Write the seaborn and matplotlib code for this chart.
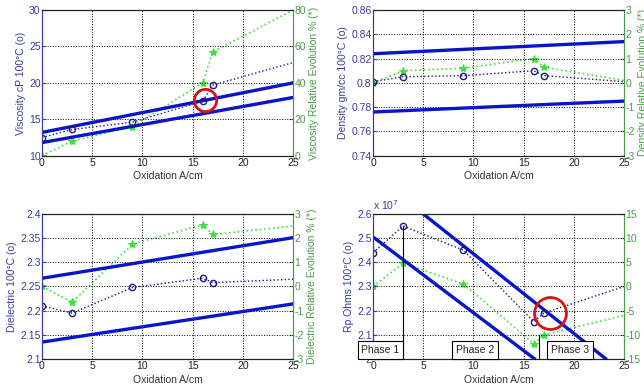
import numpy as np
import pandas as pd
import matplotlib
matplotlib.use("Agg")
import matplotlib.pyplot as plt
import seaborn as sns
from matplotlib.ticker import FuncFormatter

sns.set_style("white")
plt.rcParams['font.family'] = ['Liberation Sans', 'DejaVu Sans']

# ---------------- data ----------------
x_pts = [0, 3, 9, 16, 17, 25]

visc_vals = [12.5, 13.6, 14.6, 17.5, 19.7, 22.8]
visc_rel = [0, 8, 16, 40, 57, 80]
visc_lim_x = [0, 25]
visc_upper = [13.2, 20.0]
visc_lower = [11.8, 18.0]
visc_circle = (16.2, 17.7)

dens_vals = [0.801, 0.805, 0.806, 0.810, 0.806, 0.801]
dens_rel = [0, 0.5, 0.6, 1.0, 0.65, 0.1]
dens_upper = [0.824, 0.834]
dens_lower = [0.776, 0.785]

diel_vals = [2.21, 2.195, 2.248, 2.267, 2.258, 2.265]
diel_rel = [0, -0.65, 1.75, 2.55, 2.15, 2.5]
diel_upper = [2.267, 2.351]
diel_lower = [2.135, 2.214]

rp_vals = [2.44, 2.55, 2.45, 2.155, 2.19, 2.30]   # x 10^7
rp_rel = [0, 4.8, 0.5, -11.8, -10, -6]
rp_upper_x = [5, 23.2]
rp_upper = [2.6, 2.0]
rp_lower_x = [0, 16.1]
rp_lower = [2.505, 2.0]
rp_phase_x = [0.75, 10.15, 19.6]
rp_phase_labels = ["Phase 1", "Phase 2", "Phase 3"]
rp_vlines_x = [3, 16.5]
rp_vlines_top = [2.55, 2.10]
rp_circle = (17.6, 2.19)

# ---------------- style ----------------
C_LEFT = '#3a3a9a'
C_RIGHT = '#4c9a4c'
C_THICK = '#0a14c8'
C_DOT = '#1a1a80'
C_GREEN = '#3ee23e'
FS = 7.5

fig = plt.figure(figsize=(6.44, 3.89), dpi=100)
W = 0.390
positions = [
    [0.0652, 0.5997, W, 0.3745],
    [0.5792, 0.5997, W, 0.3745],
    [0.0652, 0.0771, W, 0.3729],
    [0.5792, 0.0771, W, 0.3729],
]

panels = [
    dict(vals=visc_vals, rel=visc_rel, ylim=(10, 30), yticks=[10, 15, 20, 25, 30],
         rlim=(0, 80), rticks=[0, 20, 40, 60, 80],
         ylabel="Viscosity cP 100°C (o)", rlabel="Viscosity Relative Evolution % (*)",
         lines=[(visc_lim_x, visc_upper), (visc_lim_x, visc_lower)]),
    dict(vals=dens_vals, rel=dens_rel, ylim=(0.74, 0.86),
         yticks=[0.74, 0.76, 0.78, 0.80, 0.82, 0.84, 0.86],
         rlim=(-3, 3), rticks=[-3, -2, -1, 0, 1, 2, 3],
         ylabel="Density gm/cc 100°C (o)", rlabel="Density Relative Evolution % (*)",
         lines=[(visc_lim_x, dens_upper), (visc_lim_x, dens_lower)]),
    dict(vals=diel_vals, rel=diel_rel, ylim=(2.1, 2.4),
         yticks=[2.1, 2.15, 2.2, 2.25, 2.3, 2.35, 2.4],
         rlim=(-3, 3), rticks=[-3, -2, -1, 0, 1, 2, 3],
         ylabel="Dielectric 100°C (o)", rlabel="Dielectric Relative Evolution % (*)",
         lines=[(visc_lim_x, diel_upper), (visc_lim_x, diel_lower)]),
    dict(vals=rp_vals, rel=rp_rel, ylim=(2.0, 2.6),
         yticks=[2.0, 2.1, 2.2, 2.3, 2.4, 2.5, 2.6],
         rlim=(-15, 15), rticks=[-15, -10, -5, 0, 5, 10, 15],
         ylabel="Rp Ohms 100°C (o)", rlabel="Rp Relative Evolution % (*)",
         lines=[(rp_upper_x, rp_upper), (rp_lower_x, rp_lower)]),
]

gfmt = FuncFormatter(lambda v, p: ('%g' % round(v, 4)))

for i, (pos, pn) in enumerate(zip(positions, panels)):
    ax = fig.add_axes(pos)
    ax2 = ax.twinx()
    ax.set_zorder(ax2.get_zorder() + 1)
    ax.patch.set_visible(False)

    # green relative evolution on right axis
    df_r = pd.DataFrame({"x": x_pts, "y": pn["rel"]})
    sns.lineplot(data=df_r, x="x", y="y", ax=ax2, color=C_GREEN, linestyle=':',
                 linewidth=1.2, marker='*', markersize=6, markevery=[0, 1, 2, 3, 4],
                 markeredgecolor=C_GREEN, sort=False)

    # thick limit lines
    for lx, ly in pn["lines"]:
        df_l = pd.DataFrame({"x": lx, "y": ly})
        sns.lineplot(data=df_l, x="x", y="y", ax=ax, color=C_THICK, linewidth=2.4)

    # measured values
    df_v = pd.DataFrame({"x": x_pts, "y": pn["vals"]})
    sns.lineplot(data=df_v, x="x", y="y", ax=ax, color=C_DOT, linestyle=':',
                 linewidth=1.0, marker='o', markersize=4.5, markerfacecolor='none',
                 markeredgecolor=C_DOT, markeredgewidth=1.0,
                 markevery=[0, 1, 2, 3, 4], sort=False)

    ax.set_xlim(0, 25)
    ax.set_ylim(*pn["ylim"])
    ax.set_yticks(pn["yticks"])
    ax.set_xticks([0, 5, 10, 15, 20, 25])
    ax.yaxis.set_major_formatter(gfmt)
    ax2.set_ylim(*pn["rlim"])
    ax2.set_yticks(pn["rticks"])
    ax2.yaxis.set_major_formatter(gfmt)

    ax.grid(True, color='black', linestyle=':', linewidth=0.7)
    ax.set_xlabel("Oxidation A/cm", fontsize=FS, color='#333333', labelpad=2.5)
    ax.set_ylabel(pn["ylabel"], fontsize=FS, color=C_LEFT, labelpad=2)
    ax2.set_ylabel(pn["rlabel"], fontsize=FS, color=C_RIGHT, labelpad=2)

    ax.tick_params(axis='x', labelsize=FS, colors='#222222', direction='in', length=3, pad=1.5)
    ax.tick_params(axis='y', labelsize=FS, colors=C_LEFT, direction='in', length=3, pad=1)
    ax2.tick_params(axis='y', labelsize=FS, colors=C_RIGHT, direction='in', length=3, pad=1)
    for a in (ax, ax2):
        a.spines['top'].set_color('#222222')
        a.spines['bottom'].set_color('#222222')
        a.spines['left'].set_color(C_LEFT)
        a.spines['right'].set_color(C_RIGHT)
        for s in a.spines.values():
            s.set_linewidth(0.8)

    if i == 0:
        ax.plot([visc_circle[0]], [visc_circle[1]], marker='o', markersize=16,
                markerfacecolor='none', markeredgecolor='#dd1111', markeredgewidth=2,
                linestyle='none', zorder=6)
    if i == 3:
        for vx, vt in zip(rp_vlines_x, rp_vlines_top):
            ax.plot([vx, vx], [2.0, vt], color='black', linewidth=0.8)
        for px, lab in zip(rp_phase_x, rp_phase_labels):
            ax.text(px, 2.037, lab, fontsize=FS, ha='center', va='center', color='#222222',
                    bbox=dict(boxstyle='square,pad=0.35', facecolor='white',
                              edgecolor='black', linewidth=0.8), zorder=7, clip_on=False)
        ax.plot([rp_circle[0]], [rp_circle[1]], marker='o', markersize=23,
                markerfacecolor='none', markeredgecolor='#dd1111', markeredgewidth=2,
                linestyle='none', zorder=6)
        ax.text(0.0, 1.015, r"x 10$^{7}$", transform=ax.transAxes, fontsize=FS,
                color=C_LEFT, ha='left', va='bottom')
        ax2.yaxis.set_label_coords(1.12, 0.5)

fig.savefig("out.png", dpi=100)
